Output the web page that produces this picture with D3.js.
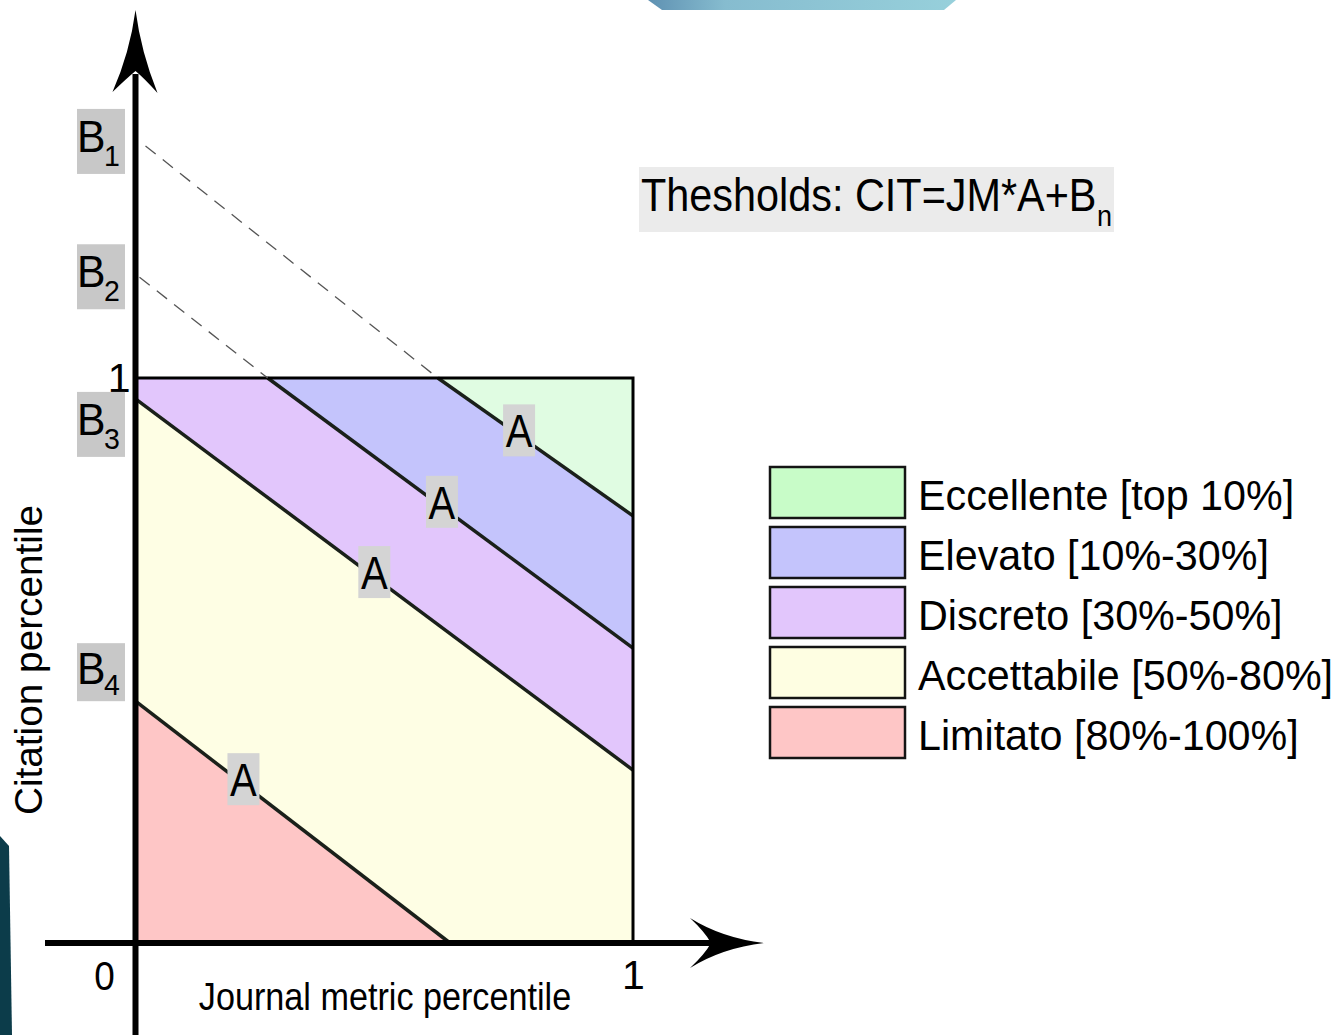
<!DOCTYPE html>
<html>
<head>
<meta charset="utf-8">
<script src="https://cdn.jsdelivr.net/npm/d3@7"></script>
<style>
  body { margin: 0; background: #fff; }
  svg { display: block; }
  text { font-family: "Liberation Sans", Arial, sans-serif; fill: #000; }
</style>
</head>
<body>
<div id="canvas"></div>
<script>
// classes, from best to worst
const categories = ["Eccellente [top 10%]", "Elevato [10%-30%]", "Discreto [30%-50%]", "Accettabile [50%-80%]", "Limitato [80%-100%]"];
const legendColors = ["#c8fcc8", "#c4c4fc", "#e2c6fc", "#fefee2", "#fec6c6"];
const areaColors = ["#e0fce2", "#c4c4fc", "#e2c6fc", "#fefee4", "#fec6c6"];

// thresholds CIT = JM*A + Bn
const thresholdNames = ["1", "2", "3", "4"];
const intercepts = [1.378, 1.173, 0.963, 0.428];
const slopes = [-0.622, -0.651, -0.657, -0.677];
const aLabelAt = [0.771, 0.616, 0.480, 0.217];   // JM where the "A" tag sits

const xTicks = [1];
const yTicks = [1];

const width = 1342, height = 1035;
const svg = d3.select("#canvas").append("svg").attr("width", width).attr("height", height);

const x = d3.scaleLinear().domain([0, 1]).range([135.5, 633]);
const y = d3.scaleLinear().domain([0, 1]).range([943, 378]);

// bits of the photo behind the chart
const grad = svg.append("defs").append("linearGradient").attr("id", "bgblue");
grad.append("stop").attr("offset", "0%").attr("stop-color", "#5f91b2");
grad.append("stop").attr("offset", "25%").attr("stop-color", "#86bccf");
grad.append("stop").attr("offset", "100%").attr("stop-color", "#97d0db");
svg.append("path").attr("d", "M648,0 L956,0 L944,10 L662,10 Z").attr("fill", "url(#bgblue)");
svg.append("path").attr("d", "M0,836 L9,846 L12,1035 L0,1035 Z").attr("fill", "#0c3c4a");

// keep the part of a polygon above (side=1) or below (side=-1) a line
function clip(poly, a, b, side) {
  const f = p => side * (p[1] - (a * p[0] + b));
  const out = [];
  for (let i = 0; i < poly.length; i++) {
    const p = poly[i], q = poly[(i + 1) % poly.length];
    const fp = f(p), fq = f(q);
    if (fp >= 0) out.push(p);
    if ((fp >= 0) !== (fq >= 0)) {
      const t = fp / (fp - fq);
      out.push([p[0] + t * (q[0] - p[0]), p[1] + t * (q[1] - p[1])]);
    }
  }
  return out;
}

const square = [[0, 0], [1, 0], [1, 1], [0, 1]];
const regions = categories.map((c, i) => {
  let poly = square;
  if (i > 0) poly = clip(poly, slopes[i - 1], intercepts[i - 1], -1);
  if (i < intercepts.length) poly = clip(poly, slopes[i], intercepts[i], 1);
  return poly;
});

const line = d3.line().x(d => x(d[0])).y(d => y(d[1]));

svg.append("g").selectAll("path").data(regions).join("path")
  .attr("d", d => line(d) + "Z")
  .attr("fill", (d, i) => areaColors[i]);

// threshold segments inside the square
const segs = intercepts.map((b, i) => {
  const a = slopes[i];
  const j0 = Math.max(0, (1 - b) / a), j1 = Math.min(1, -b / a);
  return [[j0, a * j0 + b], [j1, a * j1 + b]];
});

svg.append("g").selectAll("path").data(segs).join("path")
  .attr("d", line)
  .attr("fill", "none").attr("stroke", "#1a201a").attr("stroke-width", 3.5);

// square outline (top and right, left side is the axis)
svg.append("path")
  .attr("d", `M${x(0)},${y(1)} H${x(1)} V${y(0)}`)
  .attr("fill", "none").attr("stroke", "#000").attr("stroke-width", 3);

// B labels
const labelShift = [-23, -3.5, 25.5, -29];
const labelH = [65, 65, 65, 58];
const labelCy = intercepts.map((b, i) => y(b) + labelShift[i]);

// dashed continuations of the thresholds that start above the square
svg.append("g").selectAll("path").data(segs.filter(s => s[0][0] > 0)).join("path")
  .attr("d", (s, i) => `M${x(0) + (i === 0 ? 10 : 4)},${labelCy[i] + (i === 0 ? 4.5 : 0.5)} L${x(s[0][0])},${y(1)}`)
  .attr("fill", "none").attr("stroke", "#555").attr("stroke-width", 1.3)
  .attr("stroke-dasharray", "13,9");

// axes with arrow heads
const ax = svg.append("g");
ax.append("line").attr("x1", x(0)).attr("x2", x(0)).attr("y1", height).attr("y2", 74)
  .attr("stroke", "#000").attr("stroke-width", 6);
ax.append("path")
  .attr("d", "M135.5,10 Q141,52 157.5,93 Q144,78 135.5,71 Q127,78 112.5,92 Q130,52 135.5,10 Z")
  .attr("fill", "#000");
ax.append("line").attr("x1", 45).attr("x2", 714).attr("y1", y(0)).attr("y2", y(0))
  .attr("stroke", "#000").attr("stroke-width", 6);
ax.append("path")
  .attr("d", "M764,943 Q722,948 690,968 Q705,954 711,943 Q705,932 690,918 Q722,938 764,943 Z")
  .attr("fill", "#000");

function narrow(g, tx, ty, str, size, sx, anchor) {
  return g.append("text")
    .attr("transform", `translate(${tx},${ty}) scale(${sx},1)`)
    .attr("text-anchor", anchor || "start")
    .attr("font-size", size)
    .text(str);
}

// tick labels
const xa = svg.append("g").attr("transform", `translate(0,${y(0)})`)
  .call(d3.axisBottom(x).tickValues(xTicks).tickSize(0).tickPadding(17).tickFormat(d3.format("d")));
const ya = svg.append("g").attr("transform", `translate(${x(0)},0)`)
  .call(d3.axisLeft(y).tickValues(yTicks).tickSize(0).tickPadding(5).tickFormat(d3.format("d")));
[xa, ya].forEach(g => {
  g.select(".domain").remove();
  g.selectAll("text").attr("font-size", 41).attr("fill", "#000")
    .attr("font-family", "Liberation Sans, Arial, sans-serif");
});
narrow(svg, x(0) - 31, y(0) + 47, "0", 41, 0.9, "middle");

const lab = svg.append("g");
labelCy.forEach((cy, i) => {
  const top = cy - labelH[i] / 2;
  lab.append("rect").attr("x", 77).attr("y", top).attr("width", 48).attr("height", labelH[i])
    .attr("fill", "#c8c8c8");
  narrow(lab, 77, top + (i === 3 ? 41 : 43), "B", 45, 0.95);
  narrow(lab, 104, top + labelH[i] - (i === 3 ? 6 : 8), thresholdNames[i], 30, 0.95);
});

// A tags on every threshold
aLabelAt.forEach((jm, i) => {
  const cx = x(jm), cy = y(slopes[i] * jm + intercepts[i]) - 5;
  lab.append("rect").attr("x", cx - 16).attr("y", cy - 26).attr("width", 32).attr("height", 52)
    .attr("fill", "#d4d4d4");
  narrow(lab, cx, cy + 17, "A", 46, 0.87, "middle");
});

// formula box
svg.append("rect").attr("x", 639).attr("y", 167).attr("width", 475).attr("height", 65).attr("fill", "#ebebeb");
narrow(svg, 641, 211, "Thesholds: CIT=JM*A+B", 46, 0.9);
narrow(svg, 1097, 226, "n", 30, 0.9);

// axis titles
narrow(svg, 385, 1010, "Journal metric percentile", 38, 0.9, "middle");
svg.append("text")
  .attr("transform", "translate(42,660) rotate(-90) scale(1.02,1)")
  .attr("text-anchor", "middle").attr("font-size", 38)
  .text("Citation percentile");

// legend
const leg = svg.append("g").attr("transform", "translate(770,467)");
const item = leg.selectAll("g").data(categories).join("g")
  .attr("transform", (d, i) => `translate(0,${i * 60})`);
item.append("rect").attr("x", 0).attr("y", 0).attr("width", 135).attr("height", 51)
  .attr("fill", (d, i) => legendColors[i]).attr("stroke", "#141414").attr("stroke-width", 2.5);
item.each(function (d) { narrow(d3.select(this), 148, 43, d, 43, 0.96); });
</script>
</body>
</html>
